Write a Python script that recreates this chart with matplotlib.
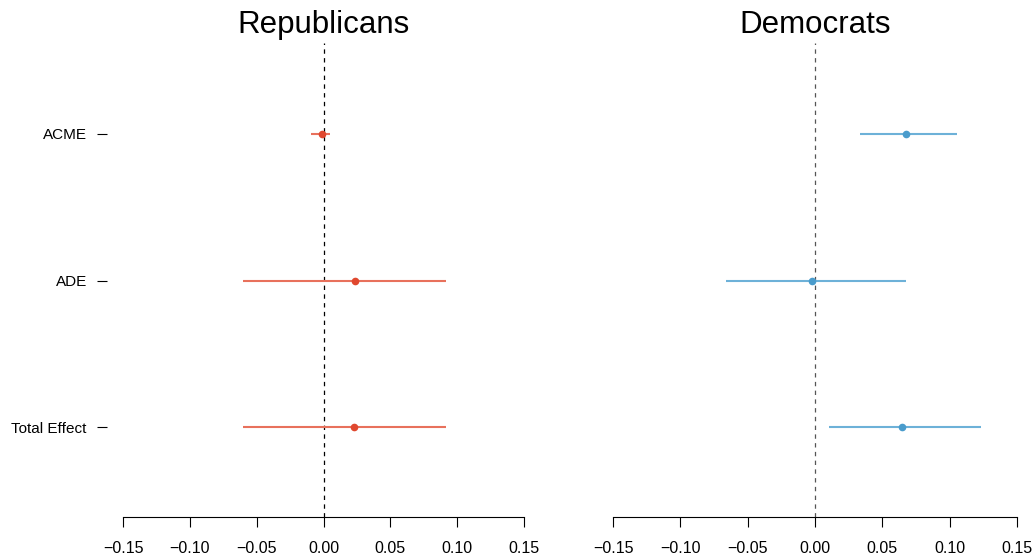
import matplotlib.pyplot as plt

plt.rcParams['font.family'] = ['Liberation Sans', 'DejaVu Sans']

effects = ['ACME', 'ADE', 'Total Effect']
ypos = [3, 2, 1]

rep_est = [-0.001, 0.0235, 0.0225]
rep_lo = [-0.009, -0.060, -0.060]
rep_hi = [0.005, 0.092, 0.092]

dem_est = [0.0675, -0.0025, 0.065]
dem_lo = [0.0335, -0.066, 0.0105]
dem_hi = [0.1055, 0.0675, 0.123]

xticks = [-0.15, -0.10, -0.05, 0.00, 0.05, 0.10, 0.15]

W, H = 1033, 558
fig = plt.figure(figsize=(W / 100, H / 100), dpi=100)


def panel(left_px, right_px, title, est, lo, hi, pt_col, ln_col, ref_col, ylabels):
    ax = fig.add_axes([left_px / W, (H - 517) / H, (right_px - left_px) / W, (517 - 43) / H])
    for y, e, a, b in zip(ypos, est, lo, hi):
        ax.plot([a, b], [y, y], color=ln_col, lw=1.5, solid_capstyle='butt', zorder=2)
        ax.plot([e], [y], 'o', color=pt_col, ms=5.5, mec='none', zorder=3)
    ax.axvline(0, color=ref_col, lw=0.9, ls=(0, (3.5, 3.5)), zorder=1)
    ax.set_xlim(-0.162, 0.162)
    ax.set_ylim(0.386, 3.621)
    for s in ['top', 'right', 'left']:
        ax.spines[s].set_visible(False)
    ax.spines['bottom'].set_bounds(-0.15, 0.15)
    ax.spines['bottom'].set_linewidth(0.8)
    ax.set_xticks(xticks)
    ax.set_xticklabels([f'{v:.2f}'.replace('-', '\u2212') for v in xticks])
    ax.tick_params(axis='x', length=7, width=0.8, pad=10, labelsize=11.5)
    if ylabels:
        ax.set_yticks(ypos)
        ax.set_yticklabels(effects)
        ax.tick_params(axis='y', length=7.5, width=0.8, pad=7, labelsize=11)
    else:
        ax.set_yticks([])
    ax.set_title(title, fontsize=22.5, pad=7)
    return ax


panel(107, 540, 'Republicans', rep_est, rep_lo, rep_hi,
      '#E0482F', '#E8715C', 'black', True)
panel(597, 1033, 'Democrats', dem_est, dem_lo, dem_hi,
      '#4A9CCC', '#6DB1D8', '#555555', False)

fig.savefig('out.png', dpi=100)
